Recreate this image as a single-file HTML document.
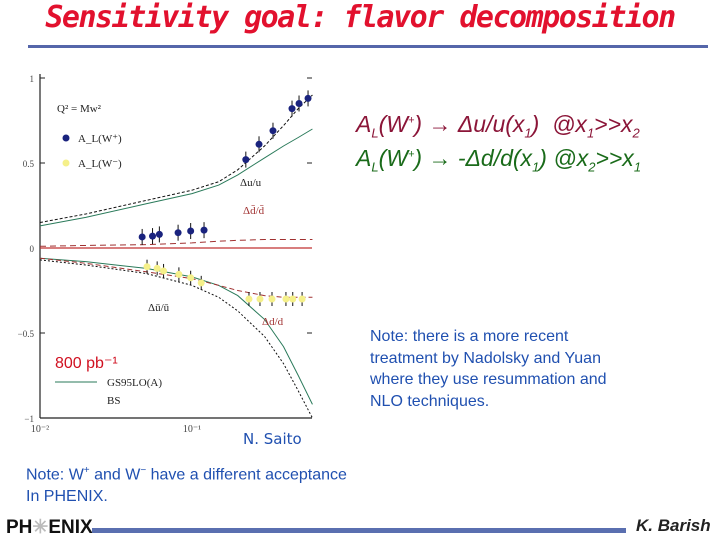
<!DOCTYPE html>
<html><head><meta charset="utf-8"><style>
body{margin:0;background:#fff;}
#root{position:relative;width:720px;height:540px;overflow:hidden;background:#fff;font-family:"Liberation Sans",sans-serif;}
.t{position:absolute;white-space:nowrap;}
</style></head><body>
<div id="root">
<div class="t" style="left:0;width:720px;text-align:center;top:0px;font-size:30px;color:#e2112e;font-style:italic;font-weight:bold;font-family:'DejaVu Sans Mono','Liberation Mono',monospace;letter-spacing:-1.5px;">Sensitivity goal: flavor decomposition</div>
<div style="position:absolute;left:28px;top:45px;width:680px;height:3px;background:#5566aa;"></div>
<svg id="chart" width="720" height="540" style="position:absolute;left:0;top:0;">
</svg>
<div class="t" style="left:356px;top:111px;font-size:23px;color:#8b1538;font-style:italic;">A<sub style="font-size:13px">L</sub>(W<sup style="font-size:11px">+</sup>) → Δu/u(x<sub style="font-size:13px">1</sub>) &nbsp;@x<sub style="font-size:13px">1</sub>&gt;&gt;x<sub style="font-size:13px">2</sub></div>
<div class="t" style="left:356px;top:145px;font-size:23px;color:#1a6b1a;font-style:italic;">A<sub style="font-size:13px">L</sub>(W<sup style="font-size:11px">+</sup>) → -Δd/d(x<sub style="font-size:13px">1</sub>) @x<sub style="font-size:13px">2</sub>&gt;&gt;x<sub style="font-size:13px">1</sub></div>
<div class="t" style="left:370px;top:326px;font-size:16px;line-height:21.5px;color:#2050b0;">Note: there is a more recent<br>treatment by Nadolsky and Yuan<br>where they use resummation and<br>NLO techniques.</div>
<div class="t" style="left:243px;top:430px;font-size:15px;color:#2050b0;font-family:'DejaVu Sans',sans-serif;">N. Saito</div>
<div class="t" style="left:26px;top:460px;font-size:16px;line-height:22px;color:#2050b0;">Note: W<sup style="font-size:10px">+</sup> and W<sup style="font-size:10px">−</sup> have a different acceptance<br>In PHENIX.</div>
<div class="t" style="left:6px;top:516px;font-size:19px;font-weight:bold;color:#111;">PH<span style="color:#bbb">✳</span>ENIX</div>
<div style="position:absolute;left:92px;top:528px;width:534px;height:5px;background:#5a6fb0;"></div>
<div class="t" style="left:636px;top:516px;font-size:17px;font-style:italic;font-weight:bold;color:#222;">K. Barish</div>
</div>
<script>
const wpX=[0.047,0.055,0.061,0.081,0.098,0.12,0.226,0.276,0.341,0.455,0.506,0.58];
const wpY=[0.065,0.07,0.08,0.09,0.10,0.105,0.52,0.61,0.69,0.82,0.85,0.88];
const wmX=[0.0506,0.059,0.065,0.082,0.098,0.115,0.237,0.28,0.336,0.415,0.46,0.53];
const wmY=[-0.11,-0.12,-0.135,-0.155,-0.175,-0.205,-0.30,-0.30,-0.30,-0.30,-0.30,-0.30];
const curveX=[0.01,0.02,0.05,0.1,0.15,0.2,0.3,0.4,0.5,0.62];
const upGreen=[0.13,0.18,0.26,0.32,0.37,0.43,0.53,0.6,0.65,0.70];
const upBlack=[0.15,0.2,0.28,0.34,0.39,0.46,0.6,0.72,0.82,0.9];
const lowGreen=[-0.06,-0.08,-0.12,-0.17,-0.22,-0.28,-0.42,-0.58,-0.75,-0.92];
const lowBlack=[-0.07,-0.1,-0.15,-0.22,-0.29,-0.37,-0.52,-0.68,-0.84,-1.0];
const lowRed=[-0.06,-0.09,-0.14,-0.18,-0.22,-0.25,-0.28,-0.29,-0.29,-0.29];
const nearRed=[0.01,0.015,0.02,0.03,0.04,0.045,0.05,0.05,0.05,0.05];
const yTicks=[1,0.5,0,-0.5,-1];
const yTickLabels=["1","0.5","0","−0.5","−1"];
const ns='http://www.w3.org/2000/svg';
const svg=document.getElementById('chart');
const X0=40,X1=312,DEC=152,Y1=78,UNIT=170;
const sx=v=>X0+(Math.log10(v)+2)*DEC;
const sy=v=>Y1+(1-v)*UNIT;
function mk(tag,at,name){const e=document.createElementNS(ns,tag);for(const k in at)e.setAttribute(k,at[k]);


svg.appendChild(e);return e;}
mk('line',{x1:X0,x2:X0,y1:Y1-4,y2:sy(-1),stroke:'#222','stroke-width':1.2},'y-axis');
mk('line',{x1:X0,x2:X1,y1:sy(-1),y2:sy(-1),stroke:'#222','stroke-width':1.2},'x-axis');
yTicks.forEach((t,i)=>{mk('line',{x1:X0,x2:X0+5,y1:sy(t),y2:sy(t),stroke:'#222'},'y-tick');
mk('line',{x1:X1-5,x2:X1,y1:sy(t),y2:sy(t),stroke:'#222'},'y-tick-right');
const tx=mk('text',{x:X0-6,y:sy(t)+4,'text-anchor':'end','font-size':9,fill:'#444','font-family':'Liberation Serif'},'y-tick-label');tx.textContent=yTickLabels[i];});
[['10⁻²',0.01],['10⁻¹',0.1]].forEach(([l,v])=>{const tx=mk('text',{x:sx(v),y:sy(-1)+14,'text-anchor':'middle','font-size':10,fill:'#444','font-family':'Liberation Serif'},'x-tick-label');tx.textContent=l;});
mk('line',{x1:X0,x2:X1,y1:sy(0),y2:sy(0),stroke:'#c03030','stroke-width':1.2},'zero-line');
function curve(ys,col,dash,name){mk('polyline',{points:curveX.map((x,i)=>sx(x)+','+sy(ys[i])).join(' '),fill:'none',stroke:col,'stroke-width':1,'stroke-dasharray':dash},name);}
curve(upGreen,'#2a7a5a','','curve-up-green');
curve(upBlack,'#111','3,2','curve-up-black');
curve(lowGreen,'#2a7a5a','','curve-low-green');
curve(lowBlack,'#111','2,2','curve-low-black');
curve(lowRed,'#a03030','5,3','curve-low-red');
curve(nearRed,'#a03030','6,4','curve-near-zero-red');
wpX.forEach((x,i)=>{mk('line',{x1:sx(x),x2:sx(x),y1:sy(wpY[i])-8,y2:sy(wpY[i])+8,stroke:'#111'},'wplus-errorbar');
mk('circle',{cx:sx(x),cy:sy(wpY[i]),r:3.5,fill:'#1a237e'},'wplus-point');});
wmX.forEach((x,i)=>{mk('line',{x1:sx(x),x2:sx(x),y1:sy(wmY[i])-7,y2:sy(wmY[i])+7,stroke:'#111'},'wminus-errorbar');
mk('circle',{cx:sx(x),cy:sy(wmY[i]),r:3.5,fill:'#f5f08a'},'wminus-point');});
function txt(x,y,s,name,col,fs,fam){const t=mk('text',{x:x,y:y,'font-size':fs||11,fill:col||'#222','font-family':fam||'Liberation Serif'},name);t.textContent=s;}
txt(57,112,'Q² = Mw²','legend-q2');
mk('circle',{cx:66,cy:138,r:3.5,fill:'#1a237e'},'legend-wplus-marker');
txt(78,142,'A_L(W⁺)','legend-wplus');
mk('circle',{cx:66,cy:163,r:3.5,fill:'#f5f08a'},'legend-wminus-marker');
txt(78,167,'A_L(W⁻)','legend-wminus');
txt(240,186,'Δu/u','label-du-u');
txt(243,214,'Δd̄/d̄','label-dbar','#a03030');
txt(148,311,'Δū/ū','label-dubar');
txt(262,325,'Δd/d','label-dd','#a03030');
txt(55,368,'800 pb⁻¹','label-luminosity','#d01020',16,'Liberation Sans');
mk('line',{x1:55,x2:97,y1:382,y2:382,stroke:'#2a7a5a'},'legend-gs95-line');
txt(107,386,'GS95LO(A)','legend-gs95');
txt(107,404,'BS','legend-bs');
</script>
</body></html>
